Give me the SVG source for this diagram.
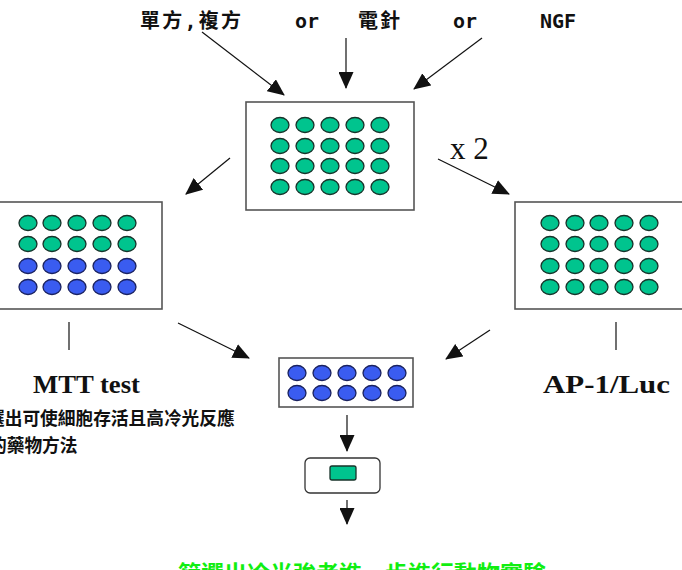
<svg xmlns="http://www.w3.org/2000/svg" width="682" height="570" viewBox="0 0 682 570">
<style>
.box{fill:#fff;stroke:#555;stroke-width:1.6}
.g{fill:#00c48e;stroke:#17332a;stroke-width:1.3}
.b{fill:#3a5cf0;stroke:#1a2260;stroke-width:1.3}
.ln{stroke:#111;stroke-width:1.2;fill:none}
.arr{stroke:#111;stroke-width:1.2;fill:none;marker-end:url(#ah)}
.top{font-family:"DejaVu Sans Mono","Noto Sans CJK TC",monospace;font-weight:bold;font-size:20px;fill:#111}
.ser{font-family:"Liberation Serif","DejaVu Serif",serif;font-weight:bold;font-size:26px;fill:#111}
.cjk{font-family:"Noto Sans CJK TC","Noto Sans CJK SC",sans-serif;font-weight:bold;font-size:17.7px;fill:#111}
</style>
<defs>
<marker id="ah" markerUnits="userSpaceOnUse" markerWidth="17" markerHeight="15" refX="16" refY="7.5" orient="auto">
<path d="M0,0 L17,7.5 L0,15 Z" fill="#111"/>
</marker>
</defs>
<g id="labels-top">
<text class="top" x="140" y="28" textLength="101" lengthAdjust="spacing">單方,複方</text>
<text class="top" x="295" y="28">or</text>
<text class="top" x="358" y="28" textLength="42" lengthAdjust="spacing">電針</text>
<text class="top" x="453" y="28">or</text>
<text class="top" x="540" y="28">NGF</text>
</g>
<g id="plate-top">
<rect class="box" x="246" y="102" width="168" height="108"/>
<ellipse class="g" cx="280" cy="125" rx="9" ry="7.5"/><ellipse class="g" cx="305" cy="125" rx="9" ry="7.5"/><ellipse class="g" cx="330" cy="125" rx="9" ry="7.5"/><ellipse class="g" cx="355" cy="125" rx="9" ry="7.5"/><ellipse class="g" cx="380" cy="125" rx="9" ry="7.5"/>
<ellipse class="g" cx="280" cy="146" rx="9" ry="7.5"/><ellipse class="g" cx="305" cy="146" rx="9" ry="7.5"/><ellipse class="g" cx="330" cy="146" rx="9" ry="7.5"/><ellipse class="g" cx="355" cy="146" rx="9" ry="7.5"/><ellipse class="g" cx="380" cy="146" rx="9" ry="7.5"/>
<ellipse class="g" cx="280" cy="166" rx="9" ry="7.5"/><ellipse class="g" cx="305" cy="166" rx="9" ry="7.5"/><ellipse class="g" cx="330" cy="166" rx="9" ry="7.5"/><ellipse class="g" cx="355" cy="166" rx="9" ry="7.5"/><ellipse class="g" cx="380" cy="166" rx="9" ry="7.5"/>
<ellipse class="g" cx="280" cy="187" rx="9" ry="7.5"/><ellipse class="g" cx="305" cy="187" rx="9" ry="7.5"/><ellipse class="g" cx="330" cy="187" rx="9" ry="7.5"/><ellipse class="g" cx="355" cy="187" rx="9" ry="7.5"/><ellipse class="g" cx="380" cy="187" rx="9" ry="7.5"/>
</g>
<g id="x2">
<text x="450" y="159" font-family="Liberation Serif,DejaVu Serif,serif" font-size="31" fill="#111">x 2</text>
</g>
<g id="plate-left">
<rect class="box" x="-5" y="202" width="167" height="107"/>
<ellipse class="g" cx="28" cy="223" rx="9" ry="7.5"/><ellipse class="g" cx="52" cy="223" rx="9" ry="7.5"/><ellipse class="g" cx="77" cy="223" rx="9" ry="7.5"/><ellipse class="g" cx="102" cy="223" rx="9" ry="7.5"/><ellipse class="g" cx="127" cy="223" rx="9" ry="7.5"/>
<ellipse class="g" cx="28" cy="244" rx="9" ry="7.5"/><ellipse class="g" cx="52" cy="244" rx="9" ry="7.5"/><ellipse class="g" cx="77" cy="244" rx="9" ry="7.5"/><ellipse class="g" cx="102" cy="244" rx="9" ry="7.5"/><ellipse class="g" cx="127" cy="244" rx="9" ry="7.5"/>
<ellipse class="b" cx="28" cy="266" rx="9" ry="7.5"/><ellipse class="b" cx="52" cy="266" rx="9" ry="7.5"/><ellipse class="b" cx="77" cy="266" rx="9" ry="7.5"/><ellipse class="b" cx="102" cy="266" rx="9" ry="7.5"/><ellipse class="b" cx="127" cy="266" rx="9" ry="7.5"/>
<ellipse class="b" cx="28" cy="287" rx="9" ry="7.5"/><ellipse class="b" cx="52" cy="287" rx="9" ry="7.5"/><ellipse class="b" cx="77" cy="287" rx="9" ry="7.5"/><ellipse class="b" cx="102" cy="287" rx="9" ry="7.5"/><ellipse class="b" cx="127" cy="287" rx="9" ry="7.5"/>
</g>
<g id="plate-right">
<rect class="box" x="515" y="202" width="172" height="107"/>
<ellipse class="g" cx="550" cy="223" rx="9" ry="7.5"/><ellipse class="g" cx="575" cy="223" rx="9" ry="7.5"/><ellipse class="g" cx="599" cy="223" rx="9" ry="7.5"/><ellipse class="g" cx="624" cy="223" rx="9" ry="7.5"/><ellipse class="g" cx="649" cy="223" rx="9" ry="7.5"/>
<ellipse class="g" cx="550" cy="244" rx="9" ry="7.5"/><ellipse class="g" cx="575" cy="244" rx="9" ry="7.5"/><ellipse class="g" cx="599" cy="244" rx="9" ry="7.5"/><ellipse class="g" cx="624" cy="244" rx="9" ry="7.5"/><ellipse class="g" cx="649" cy="244" rx="9" ry="7.5"/>
<ellipse class="g" cx="550" cy="266" rx="9" ry="7.5"/><ellipse class="g" cx="575" cy="266" rx="9" ry="7.5"/><ellipse class="g" cx="599" cy="266" rx="9" ry="7.5"/><ellipse class="g" cx="624" cy="266" rx="9" ry="7.5"/><ellipse class="g" cx="649" cy="266" rx="9" ry="7.5"/>
<ellipse class="g" cx="550" cy="287" rx="9" ry="7.5"/><ellipse class="g" cx="575" cy="287" rx="9" ry="7.5"/><ellipse class="g" cx="599" cy="287" rx="9" ry="7.5"/><ellipse class="g" cx="624" cy="287" rx="9" ry="7.5"/><ellipse class="g" cx="649" cy="287" rx="9" ry="7.5"/>
</g>
<g id="label-mtt">
<text class="ser" x="33" y="393" textLength="107" lengthAdjust="spacingAndGlyphs">MTT test</text>
<text class="cjk" x="-13" y="425">選出可使細胞存活且高冷光反應</text>
<text class="cjk" x="-11" y="452">的藥物方法</text>
</g>
<g id="label-ap1">
<text class="ser" x="543" y="393" textLength="127" lengthAdjust="spacingAndGlyphs">AP-1/Luc</text>
</g>
<g id="plate-bottom">
<rect class="box" x="279" y="358" width="134" height="49"/>
<ellipse class="b" cx="297" cy="373" rx="9" ry="7.5"/><ellipse class="b" cx="322" cy="373" rx="9" ry="7.5"/><ellipse class="b" cx="347" cy="373" rx="9" ry="7.5"/><ellipse class="b" cx="372" cy="373" rx="9" ry="7.5"/><ellipse class="b" cx="397" cy="373" rx="9" ry="7.5"/>
<ellipse class="b" cx="297" cy="393" rx="9" ry="7.5"/><ellipse class="b" cx="322" cy="393" rx="9" ry="7.5"/><ellipse class="b" cx="347" cy="393" rx="9" ry="7.5"/><ellipse class="b" cx="372" cy="393" rx="9" ry="7.5"/><ellipse class="b" cx="397" cy="393" rx="9" ry="7.5"/>
</g>
<g id="vial">
<rect x="305" y="458" width="75" height="35" rx="5" fill="#fff" stroke="#333" stroke-width="1.3"/>
<rect x="330" y="466" width="26" height="14" rx="2" fill="#00c48e" stroke="#17332a" stroke-width="1.3"/>
</g>
<g id="result">
<text x="178" y="582" font-family="Noto Sans CJK TC,Noto Sans CJK SC,sans-serif" font-weight="bold" font-size="23" fill="#11ee11">篩選出冷光強者進一步進行動物實驗</text>
</g>
<g id="connectors">
<line class="arr" x1="202" y1="32" x2="284" y2="95"/>
<line class="arr" x1="346" y1="38" x2="346" y2="88"/>
<line class="arr" x1="482" y1="38" x2="414" y2="89"/>
<line class="arr" x1="230" y1="158" x2="186" y2="194"/>
<line class="arr" x1="438" y1="159" x2="509" y2="194"/>
<line class="ln" x1="69" y1="322" x2="69" y2="350"/>
<line class="ln" x1="616" y1="322" x2="616" y2="350"/>
<line class="arr" x1="178" y1="323" x2="249" y2="358"/>
<line class="arr" x1="490" y1="330" x2="446" y2="359"/>
<line class="arr" x1="347" y1="415" x2="347" y2="451"/>
<line class="arr" x1="347" y1="500" x2="347" y2="524"/>
</g>
</svg>
